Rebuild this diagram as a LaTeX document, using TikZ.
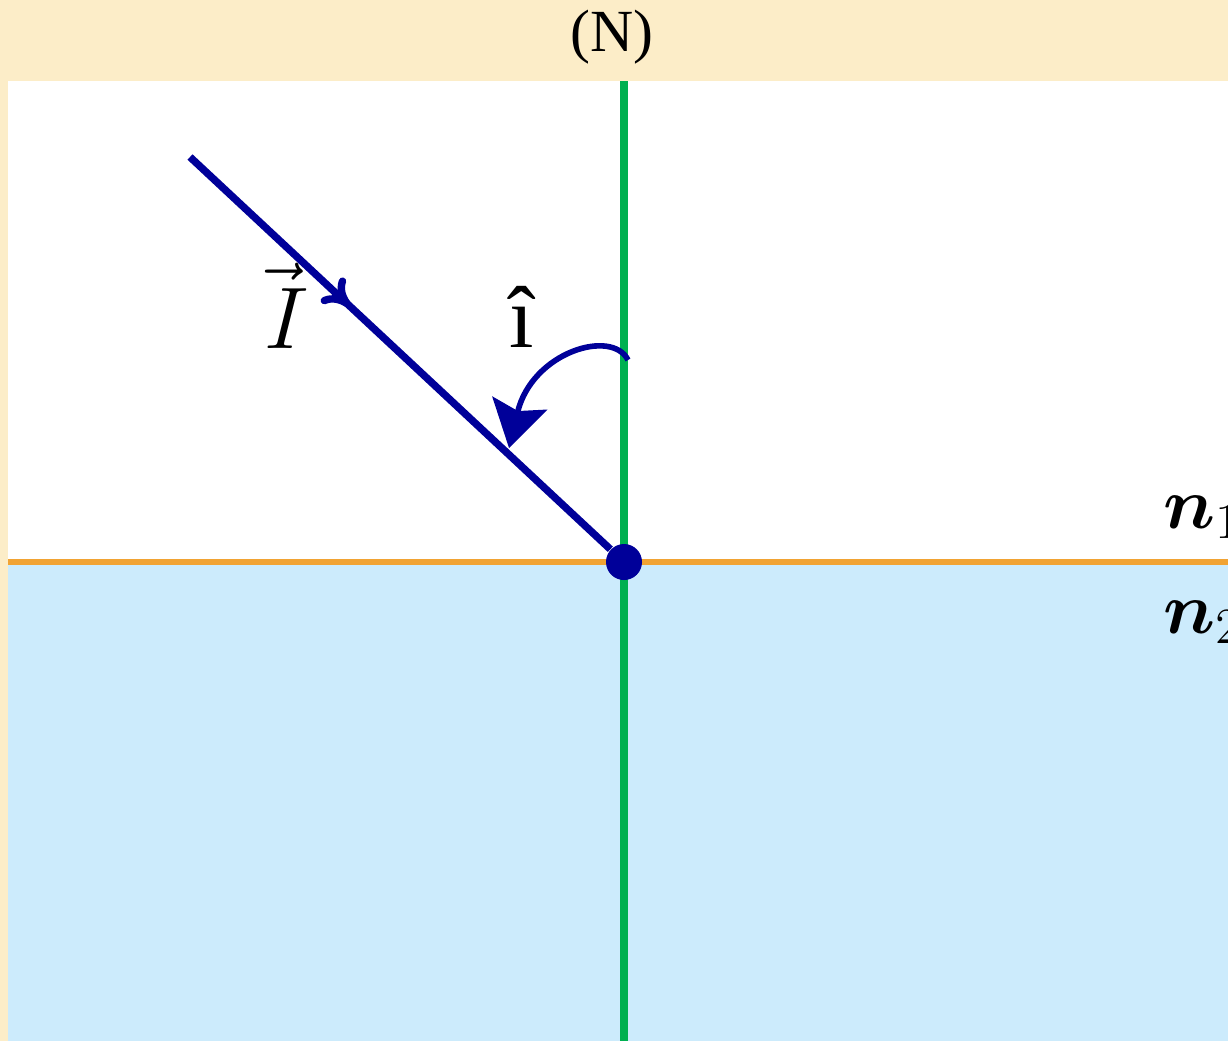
\documentclass[tikz,border=0pt]{standalone}
\usepackage{fontspec}
\usepackage{bm}
\setmainfont{Liberation Serif}
\usetikzlibrary{arrows.meta,decorations.markings}
\definecolor{headerbeige}{RGB}{252,237,200}
\definecolor{waterblue}{RGB}{204,235,252}
\definecolor{normalgreen}{RGB}{0,176,80}
\definecolor{surfaceorange}{RGB}{241,163,51}
\definecolor{raynavy}{RGB}{0,0,153}

\begin{document}
\begin{tikzpicture}[
    x=0.01cm, y=-0.01cm,
    normal/.style={draw=normalgreen, line width=2pt},
    surface/.style={draw=surfaceorange, line width=1.7pt},
    ray/.style={draw=raynavy, line width=2.1pt,
        decoration={markings, mark=at position 0.38 with {\arrow{To[length=2.6mm, width=3.4mm]}}},
        postaction={decorate}},
    anglearc/.style={draw=raynavy, line width=1.6pt, -{Stealth[length=4.6mm, width=5.6mm, inset=0.8mm]}},
    dot/.style={circle, fill=raynavy, inner sep=0pt, minimum size=0.36cm},
    label/.style={inner sep=0pt, anchor=base}
]

% background and frame
\useasboundingbox (0,0) rectangle (1228,1041);
\clip (0,0) rectangle (1228,1041);
\fill[headerbeige] (0,0) rectangle (1228,1041);
\fill[white] (8,81) rectangle (1228,562);
\fill[waterblue] (8,562) rectangle (1228,1041);

\node[font=\fontsize{17}{20}\selectfont] (title) at (612,37) {(N)};

\coordinate (ntop) at (624,81);
\coordinate (nbottom) at (624,1041);
\coordinate (sleft) at (8,562);
\coordinate (sright) at (1228,562);
\coordinate (source) at (190,157);
\coordinate (arcstart) at (628,360);
\coordinate (arcend) at (509,448);

\draw[normal] (ntop) -- (nbottom);
\draw[surface] (sleft) -- (sright);

\node[dot] (incidence) at (624,562) {};

\draw[ray] (source) -- (incidence);
\draw[anglearc] (arcstart) .. controls (612,328) and (532,352) .. (arcend);

\node[label, font=\fontsize{23}{26}\selectfont] (vecI) at (278,348) {$\vec{I\mkern-3.5mu}$};
\node[label, font=\fontsize{25}{28}\selectfont] (angleI) at (522,347) {î};

\node[label, anchor=base west, font=\fontsize{21}{24}\selectfont] (n1) at (1163,528) {$\bm{n}_1$};
\node[label, anchor=base west, font=\fontsize{21}{24}\selectfont] (n2) at (1163,633) {$\bm{n}_2$};

\end{tikzpicture}
\end{document}
